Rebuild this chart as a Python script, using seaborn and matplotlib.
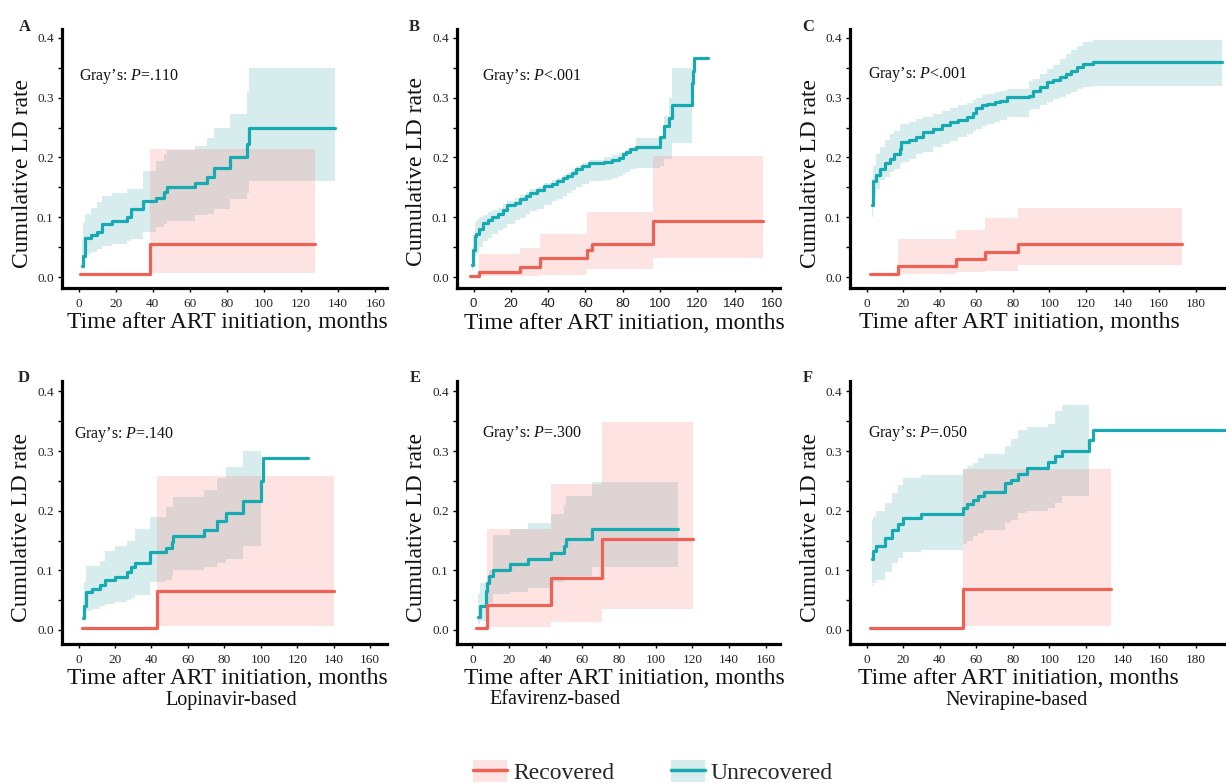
import numpy as np
import matplotlib
matplotlib.use("Agg")
import matplotlib.pyplot as plt
import seaborn as sns
from matplotlib.patches import Patch
from matplotlib.lines import Line2D

nan = np.nan

# ---------------- data ----------------
# Panel A : Lopinavir-based, CD4 recovered vs unrecovered
A_unrec_t = [2, 2.5, 3.6, 6.6, 9.9, 12.6, 18, 26, 28, 34.7, 42, 45.8, 47.6, 63, 69, 72.8, 81.8, 90.8, 91.7, 138]
A_unrec_y = [0.019, 0.035, 0.065, 0.070, 0.075, 0.088, 0.093, 0.100, 0.113, 0.127, 0.133, 0.142, 0.150, 0.158, 0.168, 0.183, 0.200, 0.222, 0.250, 0.250]
A_unrec_lo = [0.015, 0.025, 0.038, 0.042, 0.047, 0.052, 0.056, 0.060, 0.064, 0.075, 0.083, 0.089, 0.094, 0.103, 0.106, 0.114, 0.130, 0.140, 0.161, 0.161]
A_unrec_hi = [0.060, 0.090, 0.105, 0.115, 0.125, 0.135, 0.140, 0.147, 0.147, 0.178, 0.194, 0.205, 0.212, 0.219, 0.233, 0.250, 0.272, 0.310, 0.350, 0.350]
A_rec_t = [1, 38.7, 127.6]
A_rec_y = [0.005, 0.055, 0.055]
A_rec_lo = [nan, 0.007, 0.007]
A_rec_hi = [nan, 0.215, 0.215]

# Panel B : Efavirenz-based (top row)
B_unrec_t = [-1, -0.5, 0.5, 1.5, 3, 5, 8, 10, 13, 16, 18, 22, 25, 28, 30, 34, 38, 42, 45, 48, 50, 53, 55, 58, 62, 70, 74, 78, 80, 82, 84, 87, 100, 102, 104.6, 106.4, 117.1, 117.8, 118.3, 126]
B_unrec_y = [0.020, 0.045, 0.068, 0.072, 0.080, 0.090, 0.095, 0.100, 0.105, 0.112, 0.120, 0.124, 0.130, 0.135, 0.140, 0.146, 0.152, 0.156, 0.161, 0.165, 0.169, 0.174, 0.180, 0.185, 0.190, 0.192, 0.196, 0.199, 0.205, 0.210, 0.214, 0.218, 0.235, 0.252, 0.266, 0.287, 0.325, 0.345, 0.367, 0.367]
B_unrec_lo = [0.010, 0.025, 0.035, 0.040, 0.050, 0.060, 0.066, 0.072, 0.078, 0.082, 0.088, 0.095, 0.099, 0.105, 0.110, 0.113, 0.120, 0.127, 0.131, 0.136, 0.141, 0.146, 0.150, 0.155, 0.160, 0.163, 0.166, 0.169, 0.172, 0.176, 0.180, 0.182, 0.186, 0.197, 0.197, 0.225, 0.225, nan, nan, nan]
B_unrec_hi = [0.040, 0.070, 0.090, 0.095, 0.100, 0.104, 0.108, 0.112, 0.116, 0.122, 0.127, 0.133, 0.137, 0.143, 0.147, 0.150, 0.157, 0.163, 0.166, 0.171, 0.174, 0.180, 0.185, 0.190, 0.196, 0.200, 0.204, 0.208, 0.210, 0.213, 0.216, 0.233, 0.233, 0.270, 0.300, 0.350, 0.350, nan, nan, nan]
B_rec_t = [-1.8, 3, 24.7, 35.8, 60.8, 63.5, 96.5, 155.5]
B_rec_y = [0.002, 0.009, 0.016, 0.032, 0.045, 0.055, 0.094, 0.094]
B_rec_lo = [nan, 0.002, 0.002, 0.004, 0.013, 0.013, 0.031, 0.031]
B_rec_hi = [nan, 0.038, 0.048, 0.072, 0.109, 0.109, 0.202, 0.202]

# Panel C : Nevirapine-based (top row)
C_unrec_t = [2.7, 3.3, 5, 7.3, 10, 12.8, 15, 18, 19, 23, 27, 31, 36.5, 41, 45.6, 50, 54.7, 58, 60, 63, 65.7, 70, 73, 76.6, 89, 91, 95, 98.5, 102, 105.8, 109, 112, 115, 118.5, 124, 194.3]
C_unrec_y = [0.121, 0.160, 0.170, 0.181, 0.190, 0.198, 0.205, 0.214, 0.226, 0.230, 0.235, 0.242, 0.248, 0.254, 0.259, 0.263, 0.267, 0.274, 0.283, 0.287, 0.290, 0.293, 0.295, 0.301, 0.303, 0.311, 0.318, 0.326, 0.330, 0.334, 0.340, 0.345, 0.351, 0.357, 0.360, 0.360]
C_unrec_lo = [0.100, 0.135, 0.148, 0.162, 0.168, 0.175, 0.180, 0.189, 0.192, 0.198, 0.206, 0.210, 0.217, 0.222, 0.228, 0.234, 0.240, 0.245, 0.248, 0.253, 0.256, 0.260, 0.263, 0.267, 0.279, 0.281, 0.288, 0.293, 0.298, 0.302, 0.306, 0.310, 0.314, 0.318, 0.320, 0.320]
C_unrec_hi = [0.150, 0.185, 0.205, 0.218, 0.230, 0.240, 0.245, 0.253, 0.256, 0.260, 0.265, 0.268, 0.273, 0.278, 0.283, 0.288, 0.292, 0.297, 0.300, 0.304, 0.306, 0.310, 0.312, 0.315, 0.328, 0.331, 0.340, 0.348, 0.355, 0.365, 0.373, 0.380, 0.387, 0.393, 0.397, 0.397]
C_rec_t = [1.8, 17, 48.7, 65, 83, 172.4]
C_rec_y = [0.005, 0.018, 0.030, 0.042, 0.055, 0.055]
C_rec_lo = [nan, 0.005, 0.008, 0.010, 0.020, 0.020]
C_rec_hi = [nan, 0.063, 0.079, 0.098, 0.116, 0.116]

# Panel D : Lopinavir-based (bottom row)
D_unrec_t = [2.5, 3, 4, 7.3, 12, 14.6, 20, 26.5, 29, 31, 39.3, 47.9, 51, 52, 68.6, 76, 81, 90, 100, 101, 126]
D_unrec_y = [0.020, 0.040, 0.063, 0.069, 0.075, 0.083, 0.089, 0.097, 0.105, 0.113, 0.130, 0.138, 0.147, 0.157, 0.168, 0.182, 0.196, 0.216, 0.250, 0.288, 0.288]
D_unrec_lo = [0.020, 0.025, 0.032, 0.036, 0.040, 0.044, 0.047, 0.050, 0.053, 0.058, 0.080, 0.083, 0.090, 0.100, 0.105, 0.112, 0.119, 0.141, 0.141, nan, nan]
D_unrec_hi = [0.050, 0.080, 0.108, 0.108, 0.116, 0.132, 0.141, 0.150, 0.150, 0.169, 0.189, 0.206, 0.206, 0.223, 0.235, 0.255, 0.273, 0.300, 0.300, nan, nan]
D_rec_t = [2, 43, 140]
D_rec_y = [0.004, 0.066, 0.066]
D_rec_lo = [nan, 0.006, 0.006]
D_rec_hi = [nan, 0.258, 0.258]

# Panel E : Efavirenz-based (bottom row)
E_unrec_t = [3, 4, 7.3, 7.8, 9, 11, 20.4, 30.4, 43, 50, 51, 65.4, 112]
E_unrec_y = [0.022, 0.040, 0.065, 0.078, 0.090, 0.100, 0.110, 0.119, 0.129, 0.140, 0.153, 0.169, 0.169]
E_unrec_lo = [0.010, 0.015, 0.025, 0.035, 0.045, 0.060, 0.064, 0.070, 0.080, 0.090, 0.090, 0.105, 0.105]
E_unrec_hi = [0.060, 0.079, 0.079, 0.090, 0.100, 0.160, 0.170, 0.180, 0.195, 0.210, 0.225, 0.248, 0.248]
E_rec_t = [2, 8.2, 43, 70.9, 120.6]
E_rec_y = [0.003, 0.042, 0.088, 0.152, 0.152]
E_rec_lo = [nan, 0.005, 0.014, 0.035, 0.035]
E_rec_hi = [nan, 0.170, 0.245, 0.348, 0.348]

# Panel F : Nevirapine-based (bottom row)
F_unrec_t = [2.7, 3.5, 5, 10, 13.7, 17, 20, 30, 52.9, 55, 58, 61, 64.4, 75.7, 79, 83, 88, 99.4, 103, 106.7, 121.5, 124, 196]
F_unrec_y = [0.119, 0.133, 0.140, 0.154, 0.167, 0.178, 0.187, 0.194, 0.205, 0.212, 0.218, 0.225, 0.232, 0.246, 0.252, 0.261, 0.271, 0.282, 0.292, 0.300, 0.318, 0.335, 0.335]
F_unrec_lo = [0.074, 0.078, 0.084, 0.098, 0.113, 0.120, 0.131, 0.134, 0.145, 0.150, 0.157, 0.162, 0.168, 0.180, 0.185, 0.196, 0.200, 0.205, 0.213, 0.225, 0.225, nan, nan]
F_unrec_hi = [0.185, 0.190, 0.199, 0.213, 0.229, 0.243, 0.255, 0.260, 0.270, 0.275, 0.280, 0.288, 0.295, 0.308, 0.320, 0.336, 0.341, 0.345, 0.367, 0.378, 0.378, nan, nan]
F_rec_t = [2, 52.9, 133.5]
F_rec_y = [0.003, 0.069, 0.069]
F_rec_lo = [nan, 0.006, 0.006]
F_rec_hi = [nan, 0.270, 0.270]

panel_letters = ["A", "B", "C", "D", "E", "F"]
gray_p = ["=.110", "<.001", "<.001", "=.140", "=.300", "=.050"]
regimens = ["Lopinavir-based", "Efavirenz-based", "Nevirapine-based"]
series_names = ["Recovered", "Unrecovered"]
y_label = "Cumulative LD rate"
x_label = "Time after ART initiation, months"

# ---------------- style ----------------
sns.set_style("ticks")
plt.rcParams["font.family"] = ["Liberation Serif", "DejaVu Serif"]
plt.rcParams["mathtext.fontset"] = "custom"
plt.rcParams["mathtext.rm"] = "Liberation Serif"
plt.rcParams["mathtext.it"] = "Liberation Serif:italic"

RED = "#EC6257"
TEAL = "#17AAB0"
RED_FILL = "#F8766D"
TEAL_FILL = "#3AA3A8"

W, H = 1226, 783
fig = plt.figure(figsize=(W / 100, H / 100), dpi=100)


def px_ax(l, r, top, bot):
    return fig.add_axes([l / W, 1 - bot / H, (r - l) / W, (bot - top) / H])


def ftext(x, y, s, **kw):
    fig.text(x / W, 1 - y / H, s, **kw)


panels = [
    dict(rect=(62, 387, 29, 288), xlim=(-8.95, 166.3), ylim=(-0.0184, 0.415), xmax_tick=160,
         data=(A_unrec_t, A_unrec_y, A_unrec_lo, A_unrec_hi, A_rec_t, A_rec_y, A_rec_lo, A_rec_hi),
         letter=(25, 27), ylab=(23, 173), xlab=(227, 322), gray=(79, 76), xfont="Liberation Serif"),
    dict(rect=(457, 780, 29, 288), xlim=(-8.9, 164.4), ylim=(-0.0184, 0.415), xmax_tick=160,
         data=(B_unrec_t, B_unrec_y, B_unrec_lo, B_unrec_hi, B_rec_t, B_rec_y, B_rec_lo, B_rec_hi),
         letter=(414, 27), ylab=(417, 172), xlab=(624, 324), gray=(482, 76), xfont="Liberation Sans"),
    dict(rect=(850, 1226, 29, 288), xlim=(-9.1, 196.6), ylim=(-0.0184, 0.415), xmax_tick=180,
         data=(C_unrec_t, C_unrec_y, C_unrec_lo, C_unrec_hi, C_rec_t, C_rec_y, C_rec_lo, C_rec_hi),
         letter=(808, 27), ylab=(810, 173), xlab=(1019, 322), gray=(868, 75), xfont="Liberation Serif"),
    dict(rect=(62, 387, 381, 644), xlim=(-9.1, 169.2), ylim=(-0.0235, 0.4175), xmax_tick=160,
         data=(D_unrec_t, D_unrec_y, D_unrec_lo, D_unrec_hi, D_rec_t, D_rec_y, D_rec_lo, D_rec_hi),
         letter=(24, 378), ylab=(22, 528), xlab=(227, 678), gray=(74, 434), xfont="Liberation Serif"),
    dict(rect=(457, 780, 381, 644), xlim=(-8.4, 167.8), ylim=(-0.0235, 0.4175), xmax_tick=160,
         data=(E_unrec_t, E_unrec_y, E_unrec_lo, E_unrec_hi, E_rec_t, E_rec_y, E_rec_lo, E_rec_hi),
         letter=(415, 378), ylab=(417, 528), xlab=(624, 679), gray=(482, 433), xfont="Liberation Serif"),
    dict(rect=(850, 1226, 381, 644), xlim=(-9.1, 196.6), ylim=(-0.0235, 0.4175), xmax_tick=180,
         data=(F_unrec_t, F_unrec_y, F_unrec_lo, F_unrec_hi, F_rec_t, F_rec_y, F_rec_lo, F_rec_hi),
         letter=(808, 378), ylab=(810, 528), xlab=(1018, 678), gray=(868, 433), xfont="Liberation Serif"),
]

for i, p in enumerate(panels):
    ax = px_ax(*p["rect"])
    ut, uy, ulo, uhi, rt, ry, rlo, rhi = p["data"]
    # unrecovered (teal) first, then recovered (red) on top
    ax.fill_between(np.array(ut, float), np.array(ulo, float), np.array(uhi, float),
                    step="post", color=TEAL_FILL, alpha=0.2, lw=0)
    sns.lineplot(x=ut, y=uy, ax=ax, color=TEAL, lw=2.3, drawstyle="steps-post",
                 estimator=None, sort=False, legend=False)
    ax.fill_between(np.array(rt, float), np.array(rlo, float), np.array(rhi, float),
                    step="post", color=RED_FILL, alpha=0.2, lw=0)
    sns.lineplot(x=rt, y=ry, ax=ax, color=RED, lw=2.3, drawstyle="steps-post",
                 estimator=None, sort=False, legend=False)

    ax.set_xlim(*p["xlim"])
    ax.set_ylim(*p["ylim"])
    ax.set_xlabel("")
    ax.set_ylabel("")
    xt = np.arange(0, p["xmax_tick"] + 1, 20)
    ax.set_xticks(xt)
    ax.set_xticklabels([str(v) for v in xt], fontfamily=p["xfont"])
    yt = np.round(np.arange(0, 0.401, 0.05), 2)
    ax.set_yticks(yt)
    ax.set_yticklabels([f"{v:.1f}" if abs(v * 10 - round(v * 10)) < 1e-6 else "" for v in yt])
    sns.despine(ax=ax)
    for s in ("left", "bottom"):
        ax.spines[s].set_linewidth(2.3)
        ax.spines[s].set_color("black")
    ax.tick_params(axis="both", direction="out", length=3, width=1, color="black",
                   labelsize=9.5, labelcolor="#222222", pad=3)
    ax.tick_params(axis="x", pad=4)

    ftext(*p["letter"], panel_letters[i], fontsize=12, fontweight="bold", ha="center", va="center")
    ftext(*p["ylab"], y_label, fontsize=17, rotation=90, ha="center", va="center", color="#111111")
    ftext(*p["xlab"], x_label, fontsize=17, ha="center", va="center", color="#111111")
    ftext(*p["gray"], "Gray\u2019s: $\\mathit{P}$" + gray_p[i], fontsize=11.5, ha="left",
          va="center", color="#111111")

# regimen captions
for x, s in zip((231, 555, 1017), regimens):
    ftext(x, 700, s, fontsize=14.5, ha="center", va="center", color="#111111")

# legend
handles = [
    (Patch(facecolor=RED_FILL, alpha=0.2, lw=0), Line2D([], [], color=RED, lw=2.5)),
    (Patch(facecolor=TEAL_FILL, alpha=0.2, lw=0), Line2D([], [], color=TEAL, lw=2.5)),
]
fig.legend(handles=handles, labels=series_names, loc="center",
           bbox_to_anchor=(653 / W, 1 - 772 / H), ncol=2, frameon=False,
           fontsize=17, handlelength=1.45, handleheight=1.05, handletextpad=0.25,
           columnspacing=2.4, borderpad=0, borderaxespad=0)

fig.savefig("out.png", dpi=100, facecolor="white")
